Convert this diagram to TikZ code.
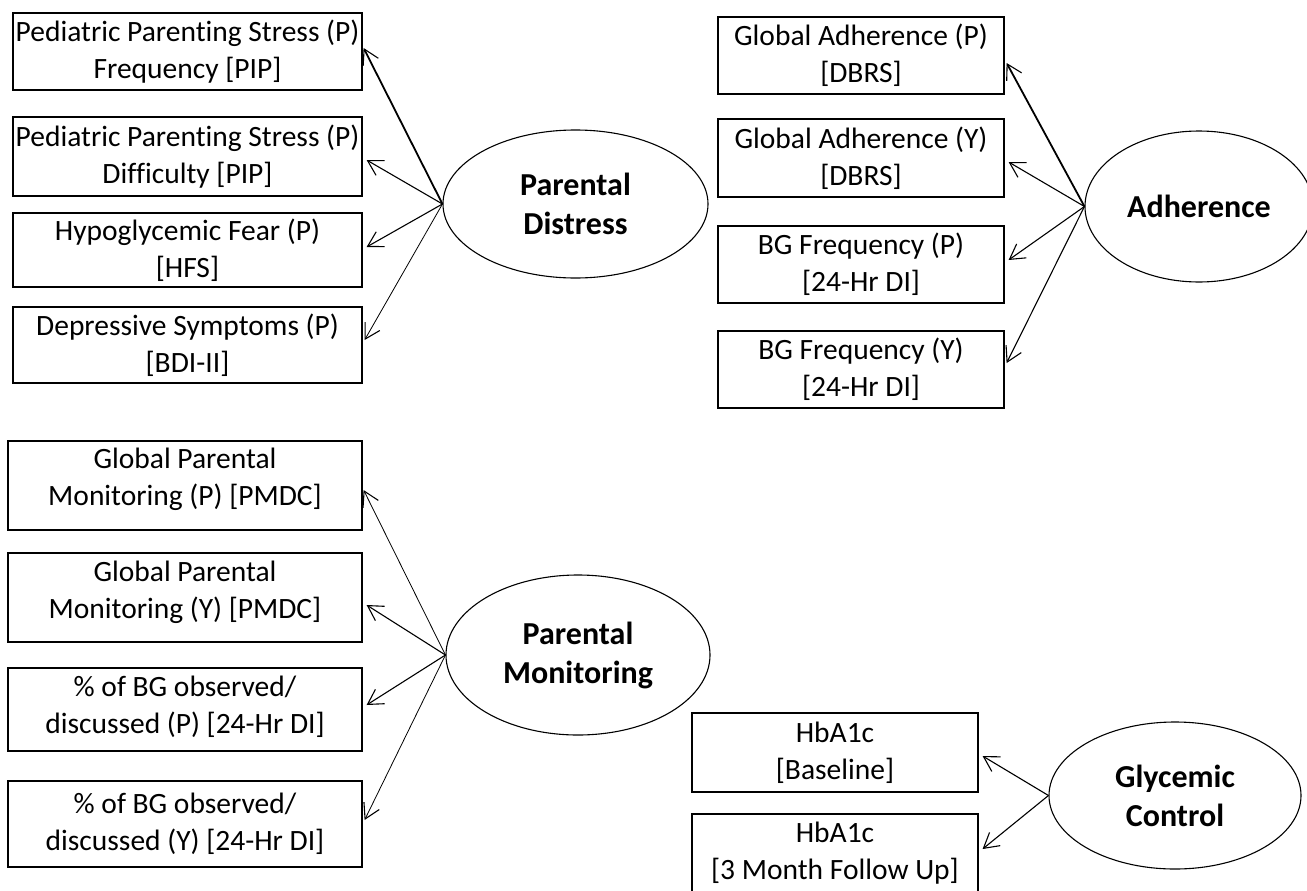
\documentclass[tikz,border=0pt]{standalone}
\usepackage{fontspec}
\setmainfont{Carlito}[Ligatures=NoCommon]
\usetikzlibrary{shapes.geometric,arrows.meta}
\newcommand{\lowdepth}[1]{\rule[-#1]{0pt}{0pt}}
\begin{document}
\begin{tikzpicture}[x=1bp,y=-1bp,
  box/.style={draw, line width=1.2bp, rectangle, inner sep=0pt, align=center,
    font=\fontsize{29.5bp}{37bp}\selectfont},
  lat/.style={draw, line width=1.1bp, ellipse, inner sep=0pt, align=center,
    font=\fontsize{32bp}{39bp}\selectfont\bfseries},
  conn/.style={line width=1.1bp, -{Straight Barb[angle=60:17bp, line width=1.1bp]}},
  thickconn/.style={conn, line width=1.8bp},
  thinconn/.style={conn, line width=0.8bp}]
\useasboundingbox (0,0) rectangle (1307,890);

% Parental Distress
\node[box, minimum width=349bp, minimum height=77bp] (d1) at (187.5,51.5) {Pediatric Parenting Stress (P)\\Frequency [PIP]};
\node[box, minimum width=349bp, minimum height=79bp] (d2) at (187.5,156.5) {Pediatric Parenting Stress (P)\\Difficulty [PIP]};
\node[box, minimum width=349bp, minimum height=74bp] (d3) at (187.5,250) {Hypoglycemic Fear (P)\\{[}HFS]};
\node[box, minimum width=349bp, minimum height=76bp] (d4) at (187.5,345) {Depressive Symptoms (P)\\{[}BDI-II]};
\node[lat, minimum width=265bp, minimum height=148bp] (pd) at (575.5,204) {Parental\\Distress};

% Adherence
\node[box, minimum width=286bp, minimum height=77bp] (a1) at (861,55.5) {Global Adherence (P)\\{[}DBRS]};
\node[box, minimum width=286bp, minimum height=78bp] (a2) at (861,158) {Global Adherence (Y)\\{[}DBRS]};
\node[box, minimum width=286bp, minimum height=77bp] (a3) at (861,264.5) {BG Frequency (P)\\{[}24-Hr DI]};
\node[box, minimum width=286bp, minimum height=77bp] (a4) at (861,369.5) {BG Frequency (Y)\\{[}24-Hr DI]};
\node[lat, minimum width=228bp, minimum height=151bp] (ad) at (1199,206.5) {Adherence};

% Parental Monitoring
\node[box, minimum width=354bp, minimum height=89bp] (m1) at (185,485.5) {Global Parental\\Monitoring (P) [PMDC]\lowdepth{17bp}};
\node[box, minimum width=354bp, minimum height=89bp] (m2) at (185,597.5) {Global Parental\\Monitoring (Y) [PMDC]\lowdepth{16bp}};
\node[box, minimum width=354bp, minimum height=83bp] (m3) at (185,709.5) {\% of BG observed/\\discussed (P) [24-Hr DI]\lowdepth{10bp}};
\node[box, minimum width=354bp, minimum height=86bp] (m4) at (185,824) {\% of BG observed/\\discussed (Y) [24-Hr DI]};
\node[lat, minimum width=264bp, minimum height=160bp] (pm) at (578,655) {Parental\\Monitoring};

% Glycemic Control
\node[box, minimum width=286bp, minimum height=79bp] (g1) at (835,752.5) {HbA1c\\{[}Baseline]};
\node[box, minimum width=286bp, minimum height=79bp] (g2) at (835,853.5) {HbA1c\\{[}3 Month Follow Up]};
\node[lat, minimum width=252bp, minimum height=147bp] (gc) at (1175,795.5) {Glycemic\\Control};

% connectors
\draw[thickconn] (pd.west) -- ([xshift=1bp,yshift=3.5bp]d1.east);
\draw[conn] (pd.west) -- ([xshift=4bp,yshift=-3.5bp]d2.east);
\draw[conn] (pd.west) -- ([xshift=4bp,yshift=3bp]d3.east);
\draw[thinconn] (pd.west) -- ([xshift=2bp,yshift=5bp]d4.east);

\draw[thickconn] (ad.west) -- ([xshift=2bp,yshift=-7.5bp]a1.east);
\draw[conn] (ad.west) -- ([xshift=4bp,yshift=-4bp]a2.east);
\draw[conn] (ad.west) -- ([xshift=4bp,yshift=4.5bp]a3.east);
\draw[conn] (ad.west) -- ([xshift=2bp,yshift=6.5bp]a4.east);

\draw[thinconn] (pm.west) -- ([xshift=1bp,yshift=-4.5bp]m1.east);
\draw[conn] (pm.west) -- ([xshift=4bp,yshift=-7.5bp]m2.east);
\draw[conn] (pm.west) -- ([xshift=4bp,yshift=4.5bp]m3.east);
\draw[thinconn] (pm.west) -- ([xshift=2bp,yshift=4bp]m4.east);

\draw[conn] (gc.west) -- ([xshift=4bp,yshift=-3.5bp]g1.east);
\draw[conn] (gc.west) -- ([xshift=4bp,yshift=4.5bp]g2.east);
\end{tikzpicture}
\end{document}
